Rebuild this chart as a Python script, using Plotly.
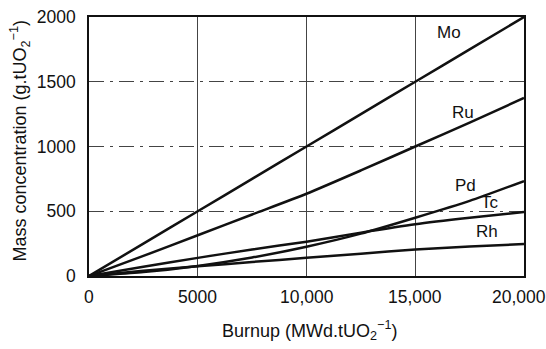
import plotly.graph_objects as go

# Burnup steps (MWd/tUO2)
burnup = [0, 2500, 5000, 7500, 10000, 12500, 15000, 17500, 20000]

# Mass concentration of fission products (g/tUO2)
mo = [0, 250, 500, 750, 1000, 1250, 1500, 1750, 2000]
ru = [0, 155, 315, 475, 635, 815, 1000, 1185, 1375]
pd_ = [0, 30, 78, 143, 226, 327, 450, 580, 733]
tc = [0, 72, 140, 205, 265, 335, 400, 450, 494]
rh = [0, 40, 75, 108, 140, 172, 205, 228, 247]

series = [("Mo", mo), ("Ru", ru), ("Pd", pd_), ("Tc", tc), ("Rh", rh)]

# Curve labels and where they sit
label_names = ["Mo", "Ru", "Pd", "Tc", "Rh"]
label_x = [16550, 17200, 17300, 18450, 18300]
label_y = [1880, 1262, 700, 565, 340]

x_ticks = [0, 5000, 10000, 15000, 20000]
x_ticktext = ["0", "5000", "10,000", "15,000", "20,000"]
y_ticks = [0, 500, 1000, 1500, 2000]

x_title = "Burnup (MWd.tUO<sub>2</sub><sup>−1</sup>)"
y_title = "Mass concentration (g.tUO<sub>2</sub><sup>−1</sup>)"

FONT = "Liberation Sans, Arial, sans-serif"

fig = go.Figure()
for name, vals in series:
    fig.add_trace(go.Scatter(
        x=burnup, y=vals, mode="lines", name=name,
        line=dict(color="#111111", width=2.5, shape="spline", smoothing=0.6),
        showlegend=False, hoverinfo="skip",
    ))

for name, lx, ly in zip(label_names, label_x, label_y):
    fig.add_annotation(x=lx, y=ly, text=name, showarrow=False,
                       font=dict(family=FONT, size=17, color="#111111"))

# X tick labels: the last one is nudged left so it stays on the page
for i, (tv, tt) in enumerate(zip(x_ticks, x_ticktext)):
    fig.add_annotation(xref="x", yref="paper", x=tv, y=-0.083,
                       xanchor="center", yanchor="middle", text=tt,
                       xshift=-5 if i == len(x_ticks) - 1 else 0,
                       showarrow=False, font=dict(family=FONT, size=17.5))

# Axis titles placed as paper annotations
fig.add_annotation(xref="paper", yref="paper", x=0.508, y=-0.2085,
                   xanchor="center", yanchor="middle", text=x_title,
                   showarrow=False, font=dict(family=FONT, size=18))
fig.add_annotation(xref="paper", yref="paper", x=-0.1586, y=0.519,
                   xanchor="center", yanchor="middle", text=y_title,
                   textangle=-90, showarrow=False,
                   font=dict(family=FONT, size=18))

fig.update_layout(
    width=546, height=349,
    margin=dict(l=89, r=22, t=17, b=73),
    paper_bgcolor="white", plot_bgcolor="white",
    font=dict(family=FONT, color="#111111"),
)
fig.update_xaxes(
    range=[0, 20000], tickvals=x_ticks, showticklabels=False, automargin=False,
    showgrid=True, gridcolor="#444444", gridwidth=1,
    showline=True, linecolor="#111111", linewidth=1.5, mirror=True,
    ticks="", zeroline=False,
)
fig.update_yaxes(
    range=[0, 2000], tickvals=y_ticks, automargin=False,
    showgrid=True, gridcolor="#444444", gridwidth=1, griddash="longdashdot",
    showline=True, linecolor="#111111", linewidth=1.5, mirror=True,
    ticks="", ticklabelstandoff=8, zeroline=False,
    tickfont=dict(size=17.5),
)

fig.write_html("out.html")
